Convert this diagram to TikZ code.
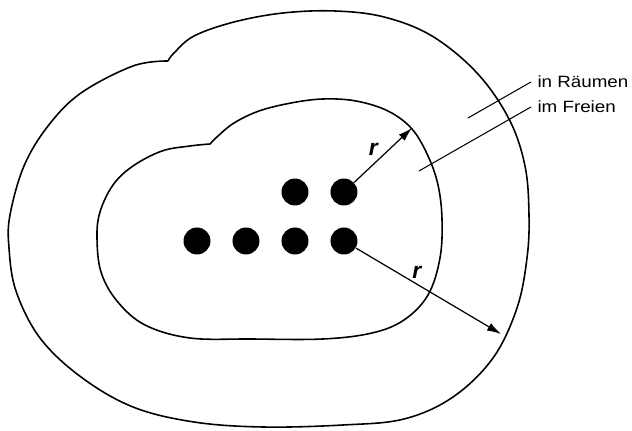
\documentclass[tikz,border=0pt]{standalone}
\usepackage{fontspec}
\setmainfont{Liberation Sans}
\newfontfamily\zonefont[FakeStretch=1.15]{Liberation Sans}
\usetikzlibrary{arrows.meta,positioning}

\begin{document}
\begin{tikzpicture}[x=0.02cm,y=-0.02cm,
  blob/.style={draw=black,line width=0.9pt},
  dot/.style={circle,fill=black,minimum size=0.54cm,inner sep=0pt},
  radius/.style={-{Latex[length=2.8mm,width=1.7mm]},line width=0.7pt},
  lead/.style={line width=0.6pt},
  zone/.style={font=\zonefont\fontsize{9.3}{11}\selectfont,anchor=west,inner sep=3.5pt},
  rlbl/.style={font=\fontsize{13}{13}\selectfont\bfseries\itshape,inner sep=1pt}]

  \useasboundingbox (0,0) rectangle (632,431);

  \draw[blob] plot[smooth,tension=0.6] coordinates {(168,61) (133,66) (81,93) (48,126)
    (24,166) (10,215) (9,248) (16,291) (40,338) (81,377) (133,407) (194,422) (263,427)
    (343,425) (404,419) (453,397) (493,358) (517,308) (527,258) (529,215) (525,166)
    (509,119) (477,73) (432,36) (384,17) (335,11) (283,13) (234,22) (194,36) (174,53) (168,61)};
  \draw[blob] plot[smooth,tension=0.6] coordinates {(210,144) (190,146) (162,151) (133,166)
    (113,185) (100,212) (97,238) (101,272) (117,301) (145,325) (190,338) (251,339)
    (323,339) (372,333) (404,320) (428,295) (440,258) (442,219) (438,185) (428,156)
    (412,129) (388,111) (356,101) (323,99) (291,103) (259,111) (234,123) (218,136) (210,144)};

  \node[dot] (d1) at (197,241) {};
  \node[dot,right=0.426cm of d1] (d2) {};
  \node[dot,right=0.426cm of d2] (d3) {};
  \node[dot,right=0.426cm of d3] (d4) {};
  \node[dot,above=0.426cm of d3] (d5) {};
  \node[dot,above=0.426cm of d4] (d6) {};

  \coordinate (innerEdge) at (412,128);
  \coordinate (outerEdge) at (501,334);
  \draw[radius] (d6) -- node[rlbl,pos=0.45,above left=0pt]{r} (innerEdge);
  \draw[radius] (d4) -- node[rlbl,pos=0.42,above=2pt]{r} (outerEdge);

  \node[zone] (raeume) at (531,82) {in Räumen};
  \node[zone] (freien) at (531,107) {im Freien};
  \coordinate (raeumeEnd) at (468,118);
  \coordinate (freienEnd) at (419,171);
  \draw[lead] (raeume.west) -- (raeumeEnd);
  \draw[lead] (freien.west) -- (freienEnd);
\end{tikzpicture}
\end{document}
